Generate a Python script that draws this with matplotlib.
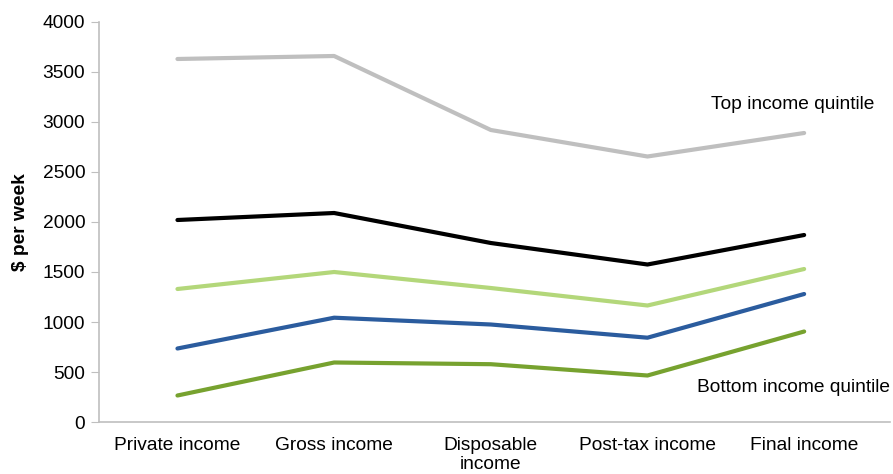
import matplotlib
matplotlib.use("Agg")
import matplotlib.pyplot as plt

categories = ["Private income", "Gross income", "Disposable\nincome", "Post-tax income", "Final income"]
top_q = [3630, 3660, 2920, 2655, 2890]
fourth_q = [2020, 2090, 1790, 1575, 1870]
third_q = [1330, 1500, 1340, 1165, 1530]
second_q = [735, 1043, 975, 843, 1280]
bottom_q = [265, 595, 578, 465, 905]
yticks = [0, 500, 1000, 1500, 2000, 2500, 3000, 3500, 4000]

plt.rcParams['font.family'] = ['Liberation Sans', 'DejaVu Sans']
FS = 13.8

fig = plt.figure(figsize=(8.93, 4.74), dpi=100)
ax = fig.add_axes([0.111, 0.1097, 0.886, 0.8439])

x = list(range(len(categories)))
series = [
    (top_q, "#BFBFBF"),
    (fourth_q, "#000000"),
    (third_q, "#B3D77A"),
    (second_q, "#2B5C9E"),
    (bottom_q, "#77A22F"),
]
for vals, col in series:
    ax.plot(x, vals, color=col, lw=3, solid_capstyle='round', solid_joinstyle='round')

ax.set_ylim(0, 4000)
ax.set_xlim(-0.5, 4.55)
ax.set_yticks(yticks)
ax.set_xticks(x)
ax.set_xticklabels(categories, fontsize=FS, linespacing=1.1)
ax.tick_params(axis='y', labelsize=FS, length=6, color='#BFBFBF', pad=4)
ax.tick_params(axis='x', length=0, pad=11)
for s in ['top', 'right']:
    ax.spines[s].set_visible(False)
for s in ['left', 'bottom']:
    ax.spines[s].set_color('#BFBFBF')
    ax.spines[s].set_linewidth(1.2)

ax.set_ylabel("$ per week", fontsize=FS, fontweight='bold', labelpad=10)

ax.text(4.45, top_q[4] + 285, "Top income quintile", fontsize=FS, ha='right', va='center')
ax.text(4.55, bottom_q[4] - 555, "Bottom income quintile", fontsize=FS, ha='right', va='center')

fig.savefig("out.png", dpi=100)
